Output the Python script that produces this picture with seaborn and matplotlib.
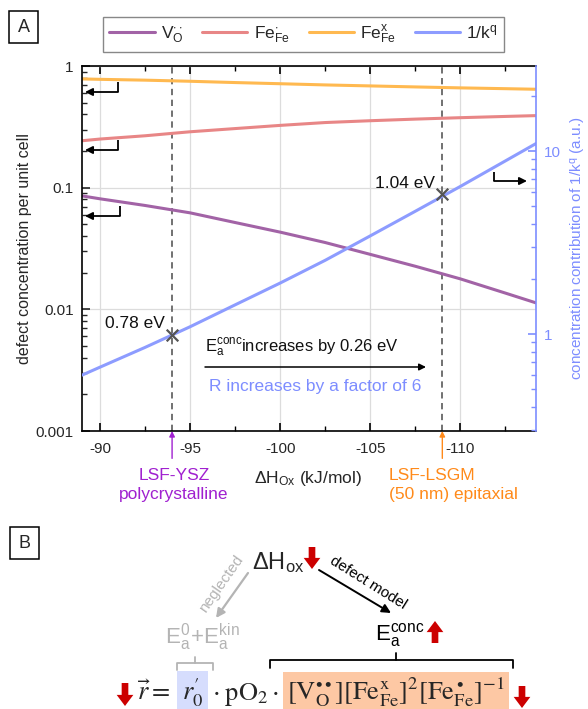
import matplotlib
matplotlib.use("Agg")
import matplotlib.pyplot as plt
import matplotlib.patches as mpatches
import matplotlib.transforms as mtransforms
from matplotlib.ticker import FixedLocator, FuncFormatter, LogLocator, NullFormatter
import pandas as pd
import seaborn as sns

# Oxidation enthalpy (kJ/mol) and defect concentrations per unit cell
dh = [-89, -90, -92.5, -95, -97.5, -100, -102.5, -105, -107.5, -110, -112.5, -114.2]
v_o = [0.0856, 0.0810, 0.0714, 0.0621, 0.0517, 0.0431, 0.0354, 0.0283, 0.0226, 0.0178, 0.0136, 0.0113]
fe_dot = [0.243, 0.251, 0.267, 0.288, 0.306, 0.325, 0.343, 0.355, 0.366, 0.376, 0.385, 0.391]
fe_x = [0.783, 0.777, 0.765, 0.749, 0.731, 0.715, 0.699, 0.686, 0.673, 0.661, 0.651, 0.644]
# concentration contribution of 1/k^q (a.u.)
inv_kq = [0.596, 0.659, 0.845, 1.096, 1.444, 1.90, 2.53, 3.44, 4.69, 6.41, 8.84, 11.0]

# the two thin-film systems
dh_mark = [-94, -109]
inv_kq_mark = [0.99, 5.8]
ea_labels = ["0.78 eV", "1.04 eV"]
systems = ["LSF-YSZ\npolycrystalline", "LSF-LSGM\n(50 nm) epitaxial"]

species = [r"$\mathregular{V_O^{\cdot\cdot}}$", r"$\mathregular{Fe_{Fe}^{\cdot}}$", r"$\mathregular{Fe_{Fe}^{x}}$"]
kq_label = r"$\mathregular{1/k^q}$"

x_major = [-90, -95, -100, -105, -110]
x_minor = [-92.5, -97.5, -102.5, -107.5, -112.5]

purple = "#a263a6"
red = "#e88686"
orange = "#ffb950"
blue = "#8d9cff"
axis_blue = "#7d8dff"
dark_red = "#cc0000"
grey_txt = "#b4b4b4"

sns.set_theme(style="ticks")
plt.rcParams["font.family"] = ["Liberation Sans", "DejaVu Sans"]
plt.rcParams["axes.linewidth"] = 1.2

W, H = 588, 709
fig = plt.figure(figsize=(W / 100, H / 100), dpi=100)


def fx(px):
    return px / W


def fy(py):
    return 1 - py / H


ax = fig.add_axes([fx(82), fy(431), fx(536) - fx(82), fy(66) - fy(431)])

df = pd.DataFrame({
    "dh": dh * 3,
    "conc": v_o + fe_dot + fe_x,
    "species": [species[0]] * len(dh) + [species[1]] * len(dh) + [species[2]] * len(dh),
})
sns.lineplot(data=df, x="dh", y="conc", hue="species", hue_order=species,
             palette=[purple, red, orange], lw=2.2, ax=ax, legend=False)

ax.set_yscale("log")
ax.set_ylim(1e-3, 1)
ax.set_xlim(-89, -114.2)
ax.xaxis.set_major_locator(FixedLocator(x_major))
ax.xaxis.set_minor_locator(FixedLocator(x_minor))
ax.xaxis.set_major_formatter(FuncFormatter(lambda v, p: f"{v:.0f}"))
ax.yaxis.set_major_locator(FixedLocator([1e-3, 1e-2, 1e-1, 1]))
ax.yaxis.set_minor_locator(LogLocator(base=10, subs=range(2, 10)))
ax.yaxis.set_major_formatter(FuncFormatter(lambda v, p: f"{v:g}"))
ax.yaxis.set_minor_formatter(NullFormatter())
ax.tick_params(axis="x", which="both", direction="in", top=True, bottom=True,
               labelsize=11, pad=8, color="black")
ax.tick_params(axis="x", which="major", length=6, width=1.2)
ax.tick_params(axis="x", which="minor", length=3.5, width=1.0)
ax.tick_params(axis="y", which="both", direction="in", left=True, right=False,
               labelsize=11, pad=6)
ax.tick_params(axis="y", which="major", length=6, width=1.2)
ax.tick_params(axis="y", which="minor", length=3.5, width=1.0)
ax.grid(True, which="major", color="#dcdcdc", lw=0.9)
ax.set_axisbelow(True)
for s in ["left", "top", "bottom"]:
    ax.spines[s].set_color("black")
ax.spines["right"].set_visible(False)
ax.set_xlabel("")
ax.set_ylabel("defect concentration per unit cell", fontsize=11.5)
ax.yaxis.set_label_coords((32 - 82) / 454, 0.5)

for x in dh_mark:
    ax.axvline(x, color="#666666", lw=1.3, ls=(0, (3.5, 2.5)), zorder=1.5)

ax2 = ax.twinx()
sns.lineplot(x=dh, y=inv_kq, color=blue, lw=2.2, ax=ax2)
sns.scatterplot(x=dh_mark, y=inv_kq_mark, marker="x", s=70, color="#555555",
                linewidth=1.6, ax=ax2, zorder=5)
ax2.set_yscale("log")
ax2.set_ylim(0.295, 29.2)
ax2.yaxis.set_major_locator(FixedLocator([1, 10]))
ax2.yaxis.set_minor_locator(LogLocator(base=10, subs=range(2, 10)))
ax2.yaxis.set_major_formatter(FuncFormatter(lambda v, p: f"{v:g}"))
ax2.yaxis.set_minor_formatter(NullFormatter())
ax2.tick_params(axis="y", which="both", direction="in", colors=axis_blue,
                labelsize=11, pad=6)
ax2.tick_params(axis="y", which="major", length=6, width=1.2)
ax2.tick_params(axis="y", which="minor", length=3.5, width=1.0)
ax2.spines["right"].set_color(axis_blue)
ax2.spines["right"].set_linewidth(1.2)
for s in ["left", "top", "bottom"]:
    ax2.spines[s].set_visible(False)
ax2.set_ylabel(r"concentration contribution of 1/k$\mathregular{^q}$ (a.u.)",
               color=axis_blue, fontsize=11)
ax2.yaxis.set_label_coords((569 - 82) / 454, 0.5)

for x, y, lab in zip(dh_mark, inv_kq_mark, ea_labels):
    ax2.annotate(lab, xy=(x, y), xytext=(-5, 8), textcoords="offset points",
                 ha="right", va="center", fontsize=12.5, color="#111111")

# arrows marking the two systems below the x axis
blend = mtransforms.blended_transform_factory(ax.transData, ax.transAxes)
for x, c in zip(dh_mark, ["#a020d0", "#ff8a1a"]):
    ax.annotate("", xy=(x, 0), xycoords=blend, xytext=(x, -0.075), textcoords=blend,
                arrowprops=dict(arrowstyle="-|>", color=c, lw=1.0, mutation_scale=8,
                                shrinkA=0, shrinkB=0), annotation_clip=False)

# legend across the top
handles = [plt.Line2D([], [], color=c, lw=2.2) for c in [purple, red, orange, blue]]
fig.legend(handles, species + [kq_label], ncol=4, loc="center",
           bbox_to_anchor=(fx(303.5), fy(34.5)), frameon=True, fancybox=False,
           edgecolor="#888888", fontsize=12.5, handlelength=2.6, columnspacing=1.1,
           handletextpad=0.35, borderpad=0.35, borderaxespad=0, framealpha=1)

# overlay in pixel coordinates for annotations and panel B
ov = fig.add_axes([0, 0, 1, 1])
ov.set_xlim(0, W)
ov.set_ylim(H, 0)
ov.axis("off")
ov.patch.set_alpha(0)

for (x0, y0), lab in zip([(9, 11), (10, 527)], ["A", "B"]):
    ov.add_patch(mpatches.Rectangle((x0, y0), 29, 32, fill=False, ec="black", lw=1.1))
    ov.text(x0 + 14.5, y0 + 16, lab, ha="center", va="center", fontsize=13)


def bent_arrow(xv, ytop, ybot, xtip):
    ov.plot([xv, xv], [ytop, ybot], color="black", lw=1.3, solid_capstyle="butt")
    ov.annotate("", xy=(xtip, ybot), xytext=(xv, ybot),
                arrowprops=dict(arrowstyle="-|>", color="black", lw=1.3,
                                mutation_scale=11, shrinkA=0, shrinkB=0))


bent_arrow(118, 82, 92, 85)
bent_arrow(118, 140, 150, 85)
bent_arrow(120, 206, 216, 85)
bent_arrow(494, 172, 181, 527)

ov.text(205, 348, r"$\mathregular{E_a^{conc}}$increases by 0.26 eV", fontsize=12,
        ha="left", va="center", color="#111111")
ov.annotate("", xy=(426, 367), xytext=(205, 367),
            arrowprops=dict(arrowstyle="-|>", color="black", lw=1.1,
                            mutation_scale=10, shrinkA=0, shrinkB=0))
ov.text(315, 386, "R increases by a factor of 6", fontsize=12.5, ha="center",
        va="center", color=axis_blue)

ov.text(308, 478, r"$\mathregular{\Delta H_{Ox}}$ (kJ/mol)", fontsize=12.5,
        ha="center", va="center")
ov.text(174, 468, systems[0], fontsize=12.5, ha="center", va="top",
        color="#a020d0", linespacing=1.35)
ov.text(389, 468, systems[1], fontsize=12.5, ha="left", va="top",
        color="#ff8a1a", linespacing=1.35)

# ---- panel B: reaction-rate scheme ----
def red_arrow(x, y0, y1):
    ov.annotate("", xy=(x, y1), xytext=(x, y0),
                arrowprops=dict(arrowstyle="simple,head_length=0.5,head_width=0.75,tail_width=0.3",
                                color=dark_red, lw=0, mutation_scale=16,
                                shrinkA=0, shrinkB=0))


ov.text(278, 563, r"$\mathregular{\Delta H_{ox}}$", fontsize=17, ha="center", va="center")
red_arrow(312, 547, 569)

ov.annotate("", xy=(216, 618), xytext=(248, 573),
            arrowprops=dict(arrowstyle="-|>", color=grey_txt, lw=1.6,
                            mutation_scale=13, shrinkA=0, shrinkB=0))
ov.text(221, 584, "neglected", rotation=55, fontsize=11, color=grey_txt,
        ha="center", va="center", rotation_mode="anchor")

ov.annotate("", xy=(391, 613), xytext=(319, 570),
            arrowprops=dict(arrowstyle="-|>", color="black", lw=1.4,
                            mutation_scale=13, shrinkA=0, shrinkB=0))
ov.text(368, 583, "defect model", rotation=-32, fontsize=11, color="black",
        ha="center", va="center", rotation_mode="anchor")

ov.text(202, 637, r"$\mathregular{E_a^0\!+\!E_a^{kin}}$", fontsize=16, color=grey_txt,
        ha="center", va="center")
ov.text(400, 635, r"$\mathregular{E_a^{conc}}$", fontsize=16, color="black",
        ha="center", va="center")
red_arrow(435, 643, 621)

# braces under the activation-energy terms
ov.plot([177, 177, 213, 213], [670, 663, 663, 670], color=grey_txt, lw=1.3)
ov.plot([195, 195], [663, 657], color=grey_txt, lw=1.3)
ov.plot([270, 270, 513, 513], [668, 660, 660, 668], color="black", lw=1.3)
ov.plot([396, 396], [660, 653], color="black", lw=1.3)

red_arrow(125, 683, 706)
ov.text(137, 700, r"$\vec{r} = $", fontsize=19, math_fontfamily="stix",
        ha="left", va="baseline")
ov.text(182, 700, r"$r_0^{\prime}$", fontsize=19, math_fontfamily="stix", ha="left",
        va="baseline", bbox=dict(boxstyle="square,pad=0.2", fc="#d6ddfd", ec="none"))
ov.text(212, 700, r"$\cdot\;\mathrm{pO}_2\cdot$", fontsize=19, math_fontfamily="stix",
        ha="left", va="baseline")
ov.text(287, 700,
        r"$[\mathrm{V}_\mathrm{O}^{\bullet\bullet}][\mathrm{Fe}_\mathrm{Fe}^\mathrm{x}]^2"
        r"[\mathrm{Fe}_\mathrm{Fe}^\bullet]^{-1}$",
        fontsize=19, math_fontfamily="stix", ha="left", va="baseline",
        bbox=dict(boxstyle="square,pad=0.15", fc="#fdc8a4", ec="none"))
red_arrow(522, 686, 708)

fig.savefig("out.png", dpi=100)
